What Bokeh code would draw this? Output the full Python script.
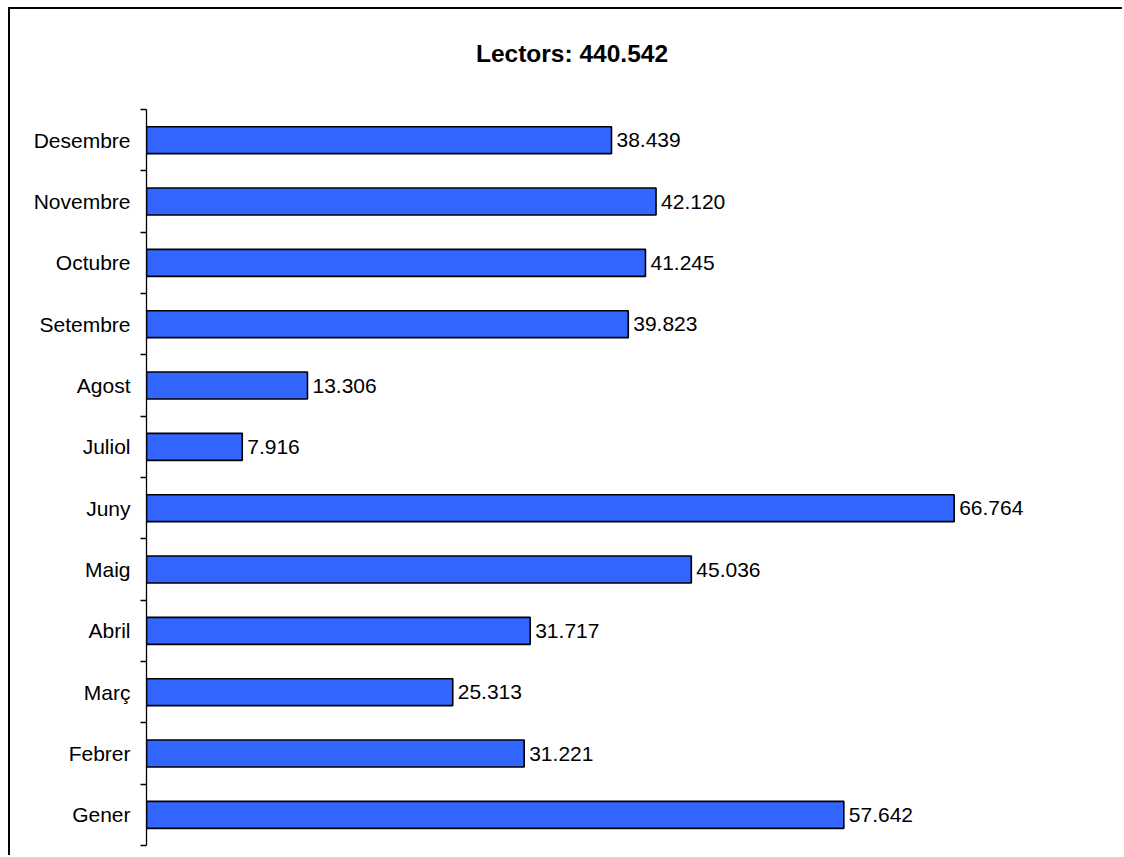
from bokeh.plotting import figure
from bokeh.models import ColumnDataSource, LabelSet, Label, Range1d, FixedTicker
from bokeh.core.properties import value
from bokeh.embed import file_html
from bokeh.resources import INLINE

title_text = "Lectors: 440.542"
months = ["Gener", "Febrer", "Març", "Abril", "Maig", "Juny",
          "Juliol", "Agost", "Setembre", "Octubre", "Novembre", "Desembre"]
readers = [57642, 31221, 25313, 31717, 45036, 66764,
           7916, 13306, 39823, 41245, 42120, 38439]

n = len(months)
pos = [i + 0.5 for i in range(n)]
labels = [f"{v:,}".replace(",", ".") for v in readers]
src = ColumnDataSource(dict(y=pos, right=readers, label=labels))

FONT = "Liberation Sans"
W, H = 1114, 848
LEFT, TOP = 136, 2
FW, FH = 954, 834
Y_END = 13.598
X_END = 78860

p = figure(width=W, height=H, output_backend="svg", toolbar_location=None,
           x_axis_type=None, x_range=Range1d(0, X_END), y_range=Range1d(0, Y_END),
           min_border_left=LEFT, min_border_top=TOP,
           min_border_right=W - LEFT - FW, min_border_bottom=H - TOP - FH)
p.styles = {"border-left": "2px solid #000000", "border-top": "2px solid #000000",
            "margin-left": "8px", "margin-top": "7px"}
p.outline_line_color = None
p.xgrid.visible = False
p.ygrid.visible = False
p.background_fill_color = "white"
p.border_fill_color = "white"

p.hbar(y="y", right="right", left=0, height=0.44, source=src,
       fill_color="#3366FF", line_color="#000000", line_width=1.6)

ax = p.yaxis[0]
ax.bounds = (0, n)
ax.ticker = FixedTicker(ticks=pos, minor_ticks=list(range(n + 1)))
ax.major_label_overrides = {p_: m for p_, m in zip(pos, months)}
ax.major_tick_line_color = None
ax.major_tick_out = 0
ax.major_tick_in = 0
ax.minor_tick_out = 6
ax.minor_tick_in = 0
ax.minor_tick_line_color = "#000000"
ax.minor_tick_line_width = 1.3
ax.axis_line_color = "#000000"
ax.axis_line_width = 1.3
ax.major_label_text_font = FONT
ax.major_label_text_font_size = "21px"
ax.major_label_text_color = "#000000"
ax.major_label_standoff = 10

p.add_layout(LabelSet(x="right", y="y", text="label", source=src,
                      x_offset=5, text_baseline="middle", text_align="left",
                      text_font=value(FONT), text_font_size=value("21px"),
                      text_color="#000000"))

p.add_layout(Label(x=425.5, y=12.913, x_units="screen", y_units="data",
                   text=title_text, text_align="center", text_baseline="middle",
                   text_font=FONT, text_font_size="24.5px", text_font_style="bold",
                   text_color="#000000"))

open("out.html", "w").write(file_html(p, INLINE))
